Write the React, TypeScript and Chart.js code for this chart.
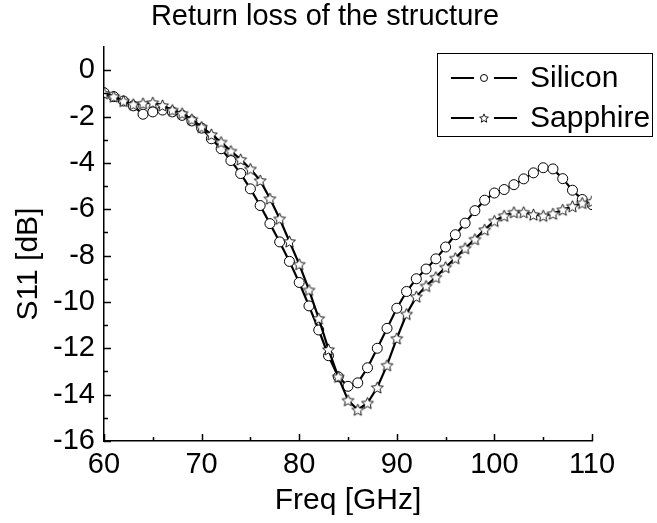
import React, { useEffect, useRef } from "react";
import { Chart, registerables } from "chart.js";

Chart.register(...registerables);

const freqGHz = [
  60, 61, 62, 63, 64, 65, 66, 67, 68, 69,
  70, 71, 72, 73, 74, 75, 76, 77, 78, 79,
  80, 81, 82, 83, 84, 85, 86, 87, 88, 89,
  90, 91, 92, 93, 94, 95, 96, 97, 98, 99,
  100, 101, 102, 103, 104, 105, 106, 107, 108, 109, 110,
];

const siliconS11 = [
  -0.97, -1.14, -1.33, -1.54, -1.9, -1.8, -1.72, -1.8, -1.95, -2.19,
  -2.5, -2.96, -3.39, -3.9, -4.46, -5.12, -5.84, -6.62, -7.41, -8.25,
  -9.16, -10.17, -11.21, -12.32, -13.23, -13.64, -13.49, -12.84, -12.0, -11.14,
  -10.27, -9.55, -9.0, -8.58, -8.14, -7.63, -7.1, -6.6, -6.06, -5.61,
  -5.3, -5.15, -4.94, -4.69, -4.43, -4.21, -4.26, -4.68, -5.18, -5.58, -5.8,
];

const sapphireS11 = [
  -1.0, -1.14, -1.33, -1.47, -1.43, -1.4, -1.52, -1.72, -1.86, -2.12,
  -2.45, -2.77, -3.1, -3.49, -3.85, -4.26, -4.76, -5.54, -6.41, -7.39,
  -8.37, -9.48, -10.71, -12.05, -13.23, -14.24, -14.65, -14.36, -13.69, -12.73,
  -11.57, -10.52, -9.77, -9.31, -8.93, -8.5, -8.11, -7.68, -7.29, -6.88,
  -6.5, -6.28, -6.13, -6.13, -6.23, -6.28, -6.19, -6.02, -5.87, -5.73, -5.66,
];

const seriesLabels = ["Silicon", "Sapphire"];
const chartTitle = "Return loss of the structure";
const xAxisTitle = "Freq [GHz]";
const yAxisTitle = "S11 [dB]";

const xMajorTicks = [60, 70, 80, 90, 100, 110];
const xMinorTicks = [65, 75, 85, 95, 105];
const yMajorTicks = [-16, -14, -12, -10, -8, -6, -4, -2, 0];
const yMinorTicks = [-15, -13, -11, -9, -7, -5, -3, -1];

const FONT = "'Liberation Sans', Arial, Helvetica, sans-serif";

function starPath(ctx: CanvasRenderingContext2D, cx: number, cy: number, ro: number, ri: number) {
  ctx.beginPath();
  for (let i = 0; i < 10; i++) {
    const r = i % 2 === 0 ? ro : ri;
    const a = -Math.PI / 2 + (i * Math.PI) / 5;
    const px = cx + r * Math.cos(a);
    const py = cy + r * Math.sin(a);
    if (i === 0) ctx.moveTo(px, py);
    else ctx.lineTo(px, py);
  }
  ctx.closePath();
}

function makeStarCanvas(ro: number, ri: number) {
  const size = Math.ceil(ro * 2 + 4);
  const c = document.createElement("canvas");
  c.width = size;
  c.height = size;
  const ctx = c.getContext("2d")!;
  starPath(ctx, size / 2, size / 2 + 0.6, ro, ri);
  ctx.fillStyle = "#ffffff";
  ctx.fill();
  ctx.lineWidth = 0.9;
  ctx.lineJoin = "miter";
  ctx.strokeStyle = "#000000";
  ctx.stroke();
  return c;
}

const tickMarksPlugin = {
  id: "inwardTicks",
  afterDraw(chart: any) {
    const { ctx, chartArea, scales } = chart;
    const xs = scales.x;
    const ys = scales.y;
    ctx.save();
    ctx.strokeStyle = "#000";
    ctx.lineWidth = 1.5;
    ctx.beginPath();
    const bottom = chartArea.bottom;
    const left = chartArea.left;
    xMajorTicks.forEach((v) => {
      const px = Math.round(xs.getPixelForValue(v)) + 0.5;
      ctx.moveTo(px, bottom);
      ctx.lineTo(px, bottom - 7);
    });
    xMinorTicks.forEach((v) => {
      const px = Math.round(xs.getPixelForValue(v)) + 0.5;
      ctx.moveTo(px, bottom);
      ctx.lineTo(px, bottom - 4);
    });
    yMajorTicks.forEach((v) => {
      const py = Math.round(ys.getPixelForValue(v)) + 0.5;
      ctx.moveTo(left, py);
      ctx.lineTo(left + 7, py);
    });
    yMinorTicks.forEach((v) => {
      const py = Math.round(ys.getPixelForValue(v)) + 0.5;
      ctx.moveTo(left, py);
      ctx.lineTo(left + 4, py);
    });
    ctx.stroke();
    ctx.restore();
  },
};

const titlesPlugin = {
  id: "titlesText",
  afterDraw(chart: any) {
    const { ctx, chartArea } = chart;
    ctx.save();
    ctx.fillStyle = "#000";
    ctx.textAlign = "center";
    ctx.textBaseline = "middle";
    ctx.font = `29px ${FONT}`;
    ctx.fillText(chartTitle, 325, 17);
    ctx.translate(29, (chartArea.top + chartArea.bottom) / 2 + 20);
    ctx.rotate(-Math.PI / 2);
    ctx.font = `30px ${FONT}`;
    ctx.fillText(yAxisTitle, 0, 0);
    ctx.restore();
  },
};

const legendPlugin = {
  id: "boxLegend",
  afterDraw(chart: any) {
    const { ctx } = chart;
    const ds = chart.data.datasets;
    ctx.save();
    ctx.fillStyle = "#fff";
    ctx.fillRect(437, 53, 216, 83);
    ctx.strokeStyle = "#000";
    ctx.lineWidth = 1;
    ctx.strokeRect(437.5, 53.5, 215, 83);
    const rows = [78, 118];
    ds.forEach((d: any, i: number) => {
      const y = rows[i];
      ctx.lineWidth = 2;
      ctx.beginPath();
      ctx.moveTo(451, y);
      ctx.lineTo(474, y);
      ctx.moveTo(494, y);
      ctx.lineTo(517, y);
      ctx.stroke();
      ctx.lineWidth = 1;
      if (i === 0) {
        ctx.beginPath();
        ctx.arc(484, y, 3.5, 0, Math.PI * 2);
        ctx.fillStyle = "#fff";
        ctx.fill();
        ctx.stroke();
      } else {
        starPath(ctx, 484, y + 0.5, 4.6, 2.1);
        ctx.fillStyle = "#fff";
        ctx.fill();
        ctx.lineWidth = 0.9;
        ctx.stroke();
      }
      ctx.fillStyle = "#000";
      ctx.font = `30px ${FONT}`;
      ctx.textAlign = "left";
      ctx.textBaseline = "middle";
      ctx.fillText(d.label, 530, y + 1);
    });
    ctx.restore();
  },
};

export default function App() {
  const ref = useRef<HTMLCanvasElement | null>(null);

  useEffect(() => {
    if (!ref.current) return;
    const star = makeStarCanvas(6.2, 2.9);
    const chart = new Chart(ref.current, {
      type: "line",
      data: {
        datasets: [
          {
            label: seriesLabels[0],
            data: freqGHz.map((f, i) => ({ x: f, y: siliconS11[i] })),
            borderColor: "#000",
            borderWidth: 2.2,
            pointStyle: "circle",
            pointRadius: 5,
            pointBorderWidth: 1,
            pointBackgroundColor: "#fff",
            pointBorderColor: "#000",
            tension: 0,
            clip: 0,
            order: 1,
          },
          {
            label: seriesLabels[1],
            data: freqGHz.map((f, i) => ({ x: f, y: sapphireS11[i] })),
            borderColor: "#000",
            borderWidth: 2.2,
            pointStyle: star as any,
            pointRadius: 6,
            pointBackgroundColor: "#fff",
            pointBorderColor: "#000",
            tension: 0,
            clip: 0,
            order: 0,
          },
        ],
      },
      options: {
        responsive: false,
        animation: false,
        events: [],
        layout: { padding: { top: 47, right: 65, left: 0, bottom: 0 } },
        plugins: {
          legend: { display: false },
          tooltip: { enabled: false },
          title: { display: false },
        },
        scales: {
          x: {
            type: "linear",
            min: 60,
            max: 110,
            afterBuildTicks: (s: any) => {
              s.ticks = xMajorTicks.map((v) => ({ value: v }));
            },
            afterFit: (s: any) => {
              s.height = 82;
            },
            grid: { display: false, drawTicks: false },
            border: { display: true, color: "#000", width: 1.5 },
            ticks: {
              color: "#000",
              padding: 7,
              maxRotation: 0,
              autoSkip: false,
              font: { family: FONT, size: 29 },
            },
            title: {
              display: true,
              text: xAxisTitle,
              color: "#000",
              font: { family: FONT, size: 30 },
              padding: { top: 0, bottom: 4 },
            },
          },
          y: {
            type: "linear",
            min: -16,
            max: 1,
            afterBuildTicks: (s: any) => {
              s.ticks = yMajorTicks.map((v) => ({ value: v }));
            },
            afterFit: (s: any) => {
              s.width = 104;
            },
            grid: { display: false, drawTicks: false },
            border: { display: true, color: "#000", width: 1.5 },
            ticks: {
              color: "#000",
              padding: 9,
              autoSkip: false,
              font: { family: FONT, size: 29 },
            },
          },
        },
      },
      plugins: [tickMarksPlugin, titlesPlugin, legendPlugin],
    });
    return () => chart.destroy();
  }, []);

  return (
    <div style={{ position: "absolute", left: 0, top: 0, width: 657, height: 523, background: "#fff" }}>
      <canvas ref={ref} width={657} height={523} style={{ display: "block", width: 657, height: 523 }} />
    </div>
  );
}
